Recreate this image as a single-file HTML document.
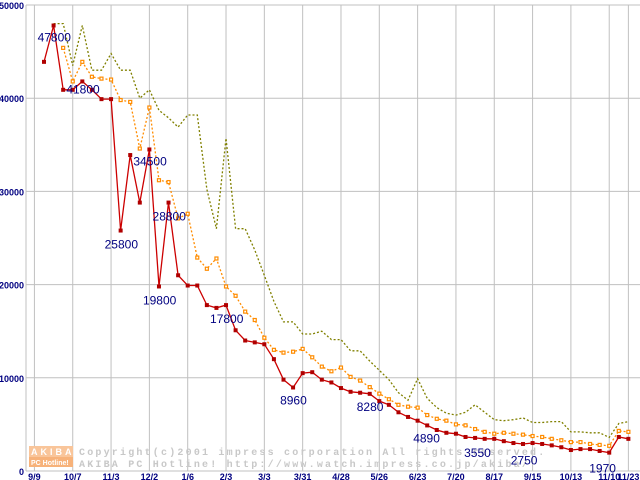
<!DOCTYPE html>
<html><head><meta charset="utf-8"><style>
html,body{margin:0;padding:0;background:#fff;}
svg{display:block;}
</style></head><body>
<svg id="chart" width="640" height="480" xmlns="http://www.w3.org/2000/svg" font-family="Liberation Sans, sans-serif">
<g id="grid"></g>
<g id="wm">
<rect x="29" y="446" width="44" height="11" fill="#f9c59a"/>
<rect x="29" y="457" width="44" height="10" fill="#f7b27a"/>
<text x="31" y="455" font-size="9" font-weight="bold" fill="#fff" letter-spacing="3">AKIBA</text>
<text x="31" y="465" font-size="7" font-weight="bold" fill="#fff">PC Hotline!</text>
<text x="79" y="455" font-size="10" font-family="Liberation Mono, monospace" font-weight="bold" fill="#c8c8c8" letter-spacing="2.2">Copyright(c)2001 impress corporation All rights reserved.</text>
<text x="79" y="467" font-size="10" font-family="Liberation Mono, monospace" font-weight="bold" fill="#c8c8c8" letter-spacing="2.2">AKIBA PC Hotline!  http://www.watch.impress.co.jp/akiba/</text>
</g>
<g id="series"></g>
<g id="labels"></g>
</svg>
<script>
const xTickLabels=["9/9","10/7","11/3","12/2","1/6","2/3","3/3","3/31","4/28","5/26","6/23","7/20","8/17","9/15","10/13","11/10","11/23"];
const xTickIndex=[-1,3,7,11,15,19,23,27,31,35,39,43,47,51,55,59,61];
const yTicks=[0,10000,20000,30000,40000,50000];
const redValues=[43900,47800,40900,40900,41800,40900,39900,39900,25800,33900,28800,34500,19800,28800,21000,19900,19900,17800,17500,17800,15100,14000,13800,13600,12000,9800,8960,10500,10600,9800,9500,8900,8500,8400,8280,7500,7100,6300,5800,5400,4890,4400,4100,4000,3650,3550,3450,3450,3200,3000,2900,3000,2900,2750,2550,2250,2350,2350,2150,1970,3650,3450];
const orangeValues=[null,null,45400,41800,43900,42300,42100,42000,39800,39600,34600,39000,31200,31000,27100,27600,22900,21700,22800,19800,18800,17100,16200,14300,13000,12700,12800,13100,12200,11200,10700,11100,10100,9700,9000,8300,7700,7100,6900,6800,6000,5600,5400,5000,4900,4500,4200,4000,4100,4000,3900,3750,3650,3450,3300,3100,3100,2900,2800,2700,4300,4200];
const oliveValues=[null,48000,48000,43500,47800,43000,43000,44800,43000,43000,40000,40900,38700,37900,36900,38200,38200,30200,26000,35700,26000,26000,23700,21000,18200,16000,16000,14700,14700,15000,14100,14100,12900,12900,11800,10800,9800,8400,7600,9900,7800,6800,6200,6000,6300,7100,6300,5500,5400,5500,5700,5200,5200,5300,5300,4200,4200,4100,4100,3600,5100,5300];
const labelIdx=[1,4,8,11,13,12,19,26,34,40,45,53,59];
const labelDx=[-16,-16,-16,-16,-16,-16,-16,-13,-13,-14,-11,-41,-20];
const labelDy=[16,12,18,16,18,18,18,17,17,17,19,19,20];

const X=i=>44+i*9.58;
const Y=v=>471-v*0.00932;
const NS="http://www.w3.org/2000/svg";
function mk(tag,attrs,parent){const e=document.createElementNS(NS,tag);for(const k in attrs)e.setAttribute(k,attrs[k]);parent.appendChild(e);return e;}
const grid=document.getElementById('grid');
yTicks.forEach((v,k)=>{
  const l=mk('line',{x1:26,x2:640,y1:Y(v),y2:Y(v),stroke:'#c0c0c0','stroke-width':1},grid);
  
  
  const t=mk('text',{x:24,y:Y(v)+4,'font-size':9,'font-weight':'bold',fill:'#000080','text-anchor':'end'},grid);
  t.textContent=v;
  
  
});
const ax=mk('line',{x1:26,x2:26,y1:5,y2:471,stroke:'#c0c0c0','stroke-width':1},grid);


xTickIndex.forEach((i,k)=>{
  const l=mk('line',{x1:X(i),x2:X(i),y1:5,y2:471,stroke:'#c0c0c0','stroke-width':1},grid);
  
  
  const t=mk('text',{x:X(i),y:480,'font-size':9,'font-weight':'bold',fill:'#000080','text-anchor':'middle'},grid);
  t.textContent=xTickLabels[k];
  
  
});
const ser=document.getElementById('series');
function path(vals){let d='';vals.forEach((v,i)=>{if(v==null)return;d+=(d?'L':'M')+X(i).toFixed(1)+','+Y(v).toFixed(1);});return d;}
const ol=mk('path',{d:path(oliveValues),fill:'none',stroke:'#808000','stroke-width':1.3,'stroke-dasharray':'2,2'},ser);


const or=mk('path',{d:path(orangeValues),fill:'none',stroke:'#ff8c00','stroke-width':1.3,'stroke-dasharray':'2,2'},ser);


orangeValues.forEach((v,i)=>{if(v==null)return;
  const r=mk('rect',{x:X(i)-1.5,y:Y(v)-1.5,width:3,height:3,fill:'#fff',stroke:'#ff8c00','stroke-width':1.2},ser);
  
  
});
const rd=mk('path',{d:path(redValues),fill:'none',stroke:'#cc0000','stroke-width':1.3},ser);


redValues.forEach((v,i)=>{
  const r=mk('rect',{x:X(i)-2,y:Y(v)-2,width:4,height:4,fill:'#b00000'},ser);
  
  
});
const lab=document.getElementById('labels');
labelIdx.forEach((i,k)=>{
  const t=mk('text',{x:X(i)+labelDx[k],y:Y(redValues[i])+labelDy[k],'font-size':12,fill:'#000080'},lab);
  t.textContent=redValues[i];
  
  
});
</script>
</body></html>
